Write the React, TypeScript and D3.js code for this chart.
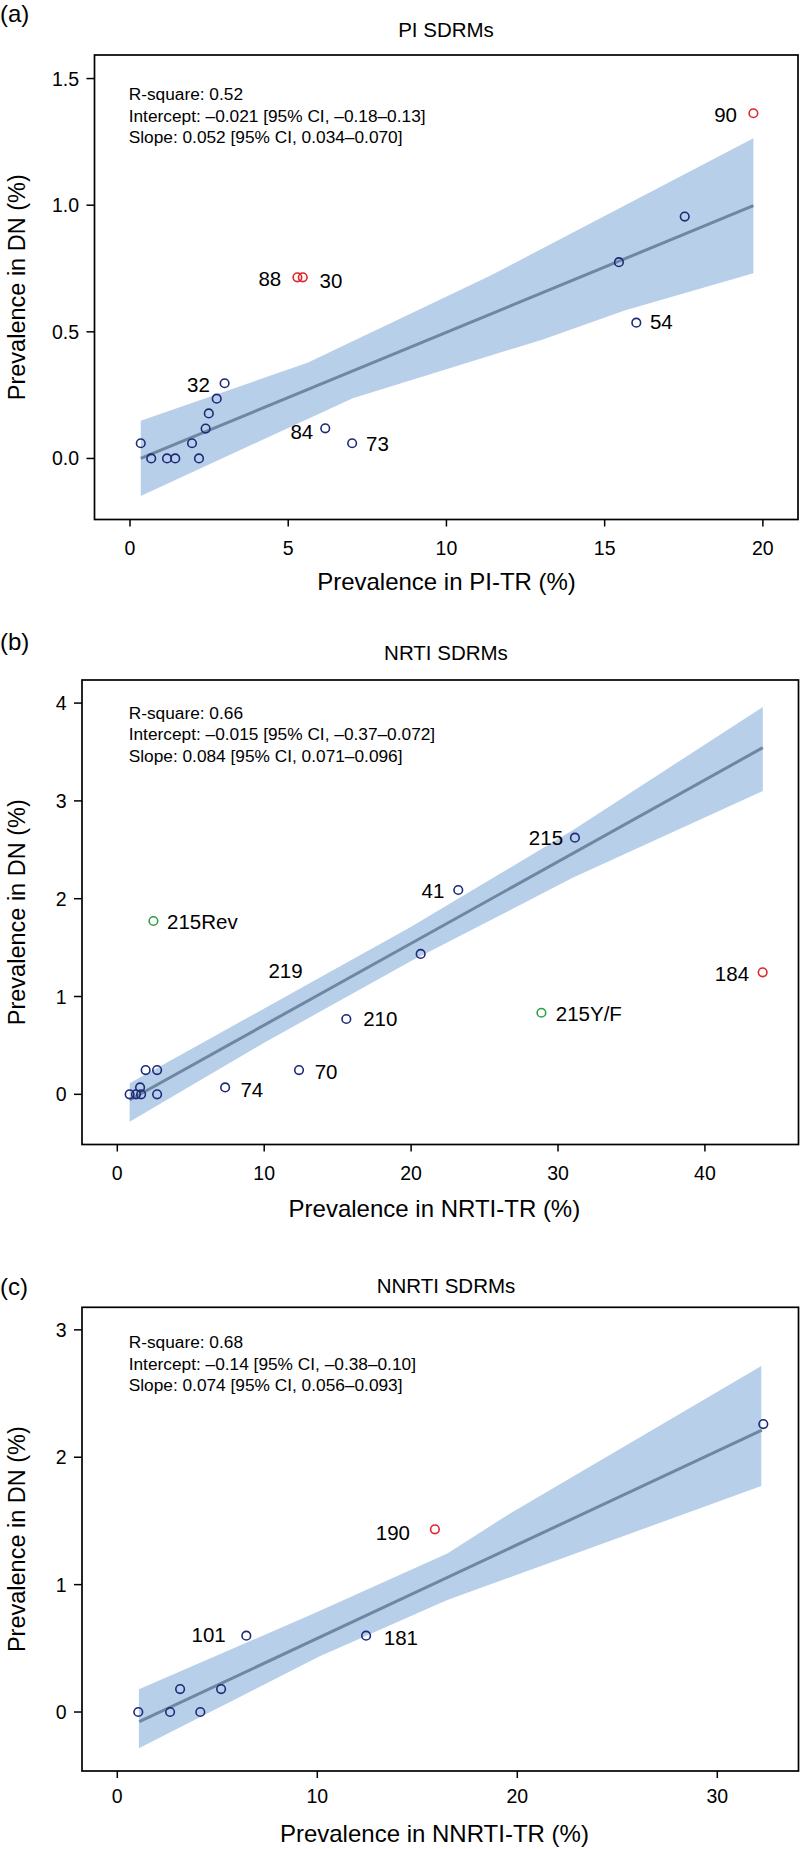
import React from 'react';
import * as d3 from 'd3';

const FONT = '"Liberation Sans", Arial, Helvetica, sans-serif';

// ---------- Panel (a): PI SDRMs ----------
const aPointX = [19.7, 17.53, 15.45, 5.29, 5.46, 16.0, 2.99, 2.74, 2.49, 2.39, 1.96, 0.34, 0.67, 1.17, 1.43, 2.18, 6.17, 7.02];
const aPointY = [1.363, 0.955, 0.775, 0.715, 0.715, 0.536, 0.297, 0.236, 0.178, 0.118, 0.06, 0.06, 0, 0, 0, 0, 0.119, 0.06];
const aPointGroup = ['r', 'b', 'b', 'r', 'r', 'b', 'b', 'b', 'b', 'b', 'b', 'b', 'b', 'b', 'b', 'b', 'b', 'b'];
const aLabelText = ['90', '88', '30', '54', '32', '84', '73'];
const aLabelX = [18.82, 4.42, 6.35, 16.79, 2.165, 5.43, 7.82];
const aLabelY = [1.356, 0.711, 0.701, 0.54, 0.29, 0.106, 0.06];
const aFitX = [0.34, 19.7];
const aFitY = [0.0, 0.998];
const aUpperX = [0.34, 5.61, 11.33, 19.7];
const aUpperY = [0.149, 0.378, 0.718, 1.264];
const aLowerX = [0.34, 7.04, 13.05, 15.63, 19.7];
const aLowerY = [-0.148, 0.238, 0.47, 0.584, 0.731];
const aXTicks = [0, 5, 10, 15, 20];
const aYTicks = [0, 0.5, 1.0, 1.5];
const aYTickLabels = ['0.0', '0.5', '1.0', '1.5'];
const aStats = ['R-square: 0.52', 'Intercept: \u20130.021 [95% CI, \u20130.18\u20130.13]', 'Slope: 0.052 [95% CI, 0.034\u20130.070]'];

// ---------- Panel (b): NRTI SDRMs ----------
const bPointX = [31.15, 23.21, 2.46, 20.65, 43.93, 28.87, 15.59, 12.37, 7.34, 1.93, 2.71, 1.55, 0.84, 1.27, 1.62, 2.71];
const bPointY = [2.624, 2.089, 1.772, 1.435, 1.247, 0.834, 0.77, 0.248, 0.071, 0.248, 0.248, 0.071, 0, 0, 0, 0];
const bPointGroup = ['b', 'b', 'g', 'b', 'r', 'g', 'b', 'b', 'b', 'b', 'b', 'b', 'b', 'b', 'b', 'b'];
const bLabelText = ['215', '41', '215Rev', '219', '184', '215Y/F', '210', '70', '74'];
const bLabelX = [29.18, 21.49, 5.79, 11.45, 41.84, 32.1, 17.9, 14.21, 9.16];
const bLabelY = [2.624, 2.079, 1.765, 1.261, 1.237, 0.828, 0.777, 0.231, 0.044];
const bFitX = [0.84, 43.94];
const bFitY = [-0.058, 3.544];
const bUpperX = [0.84, 10, 20, 31, 43.94];
const bUpperY = [0.112, 0.878, 1.713, 2.7, 3.96];
const bLowerX = [0.84, 10, 20, 31, 43.94];
const bLowerY = [-0.28, 0.528, 1.363, 2.213, 3.1];
const bXTicks = [0, 10, 20, 30, 40];
const bYTicks = [0, 1, 2, 3, 4];
const bYTickLabels = ['0', '1', '2', '3', '4'];
const bStats = ['R-square: 0.66', 'Intercept: \u20130.015 [95% CI, \u20130.37\u20130.072]', 'Slope: 0.084 [95% CI, 0.071\u20130.096]'];

// ---------- Panel (c): NNRTI SDRMs ----------
const cPointX = [32.3, 15.88, 6.45, 12.44, 3.14, 5.19, 1.05, 2.64, 4.15];
const cPointY = [2.26, 1.434, 0.599, 0.599, 0.18, 0.18, 0, 0, 0];
const cPointGroup = ['b', 'r', 'b', 'b', 'b', 'b', 'b', 'b', 'b'];
const cLabelText = ['190', '101', '181'];
const cLabelX = [13.78, 4.565, 14.18];
const cLabelY = [1.411, 0.61, 0.586];
const cFitX = [1.1, 32.23];
const cFitY = [-0.076, 2.213];
const cUpperX = [1.08, 9.85, 16.5, 19.7, 32.2];
const cUpperY = [0.178, 0.775, 1.245, 1.565, 2.716];
const cLowerX = [1.08, 10.07, 16.5, 32.2];
const cLowerY = [-0.285, 0.434, 0.879, 1.774];
const cXTicks = [0, 10, 20, 30];
const cYTicks = [0, 1, 2, 3];
const cYTickLabels = ['0', '1', '2', '3'];
const cStats = ['R-square: 0.68', 'Intercept: \u20130.14 [95% CI, \u20130.38\u20130.10]', 'Slope: 0.074 [95% CI, 0.056\u20130.093]'];

const COLORS: Record<string, string> = { b: '#1F2A78', r: '#E0262B', g: '#2FA046' };
const BAND = '#B8CFEA';
const FIT = '#6F87A3';

type Cfg = {
  letter: string; title: string; xTitle: string;
  box: { l: number; t: number; r: number; b: number };
  xDomain: [number, number]; yDomain: [number, number];
  px: number[]; py: number[]; pg: string[];
  lt: string[]; lx: number[]; ly: number[];
  fx: number[]; fy: number[];
  ux: number[]; uy: number[]; lwx: number[]; lwy: number[];
  xt: number[]; yt: number[]; ytl: string[];
  stats: string[];
  letterY: number; titleY: number; xTitleX: number; xTitleY: number; statsY: number; xTickLabelY: number;
};

const panels: Cfg[] = [
  {
    letter: '(a)', title: 'PI SDRMs', xTitle: 'Prevalence in PI-TR (%)',
    box: { l: 94.5, t: 55, r: 798, b: 519.5 },
    xDomain: [-1.122, 21.11], yDomain: [-0.241, 1.593],
    px: aPointX, py: aPointY, pg: aPointGroup,
    lt: aLabelText, lx: aLabelX, ly: aLabelY,
    fx: aFitX, fy: aFitY, ux: aUpperX, uy: aUpperY, lwx: aLowerX, lwy: aLowerY,
    xt: aXTicks, yt: aYTicks, ytl: aYTickLabels, stats: aStats,
    letterY: 21.5, titleY: 37, xTitleX: 446.5, xTitleY: 590, statsY: 100, xTickLabelY: 555,
  },
  {
    letter: '(b)', title: 'NRTI SDRMs', xTitle: 'Prevalence in NRTI-TR (%)',
    box: { l: 82, t: 680, r: 798.5, b: 1144.5 },
    xDomain: [-2.403, 46.37], yDomain: [-0.513, 4.236],
    px: bPointX, py: bPointY, pg: bPointGroup,
    lt: bLabelText, lx: bLabelX, ly: bLabelY,
    fx: bFitX, fy: bFitY, ux: bUpperX, uy: bUpperY, lwx: bLowerX, lwy: bLowerY,
    xt: bXTicks, yt: bYTicks, ytl: bYTickLabels, stats: bStats,
    letterY: 650, titleY: 660, xTitleX: 434.4, xTitleY: 1216.5, statsY: 718.7, xTickLabelY: 1180,
  },
  {
    letter: '(c)', title: 'NNRTI SDRMs', xTitle: 'Prevalence in NNRTI-TR (%)',
    box: { l: 82, t: 1307.3, r: 798.5, b: 1771 },
    xDomain: [-1.765, 34.06], yDomain: [-0.463, 3.177],
    px: cPointX, py: cPointY, pg: cPointGroup,
    lt: cLabelText, lx: cLabelX, ly: cLabelY,
    fx: cFitX, fy: cFitY, ux: cUpperX, uy: cUpperY, lwx: cLowerX, lwy: cLowerY,
    xt: cXTicks, yt: cYTicks, ytl: cYTickLabels, stats: cStats,
    letterY: 1295, titleY: 1292.7, xTitleX: 434.4, xTitleY: 1841.5, statsY: 1348, xTickLabelY: 1803,
  },
];

function Panel({ c }: { c: Cfg }) {
  const { box } = c;
  const x = d3.scaleLinear().domain(c.xDomain).range([box.l, box.r]);
  const y = d3.scaleLinear().domain(c.yDomain).range([box.b, box.t]);
  const upper = c.ux.map((v, i) => [x(v), y(c.uy[i])] as [number, number]);
  const lower = c.lwx.map((v, i) => [x(v), y(c.lwy[i])] as [number, number]).reverse();
  const bandPath = (d3.line()([...upper, ...lower]) || '') + 'Z';
  const fitPath = d3.line()(c.fx.map((v, i) => [x(v), y(c.fy[i])] as [number, number])) || '';
  const cy = (box.t + box.b) / 2;
  return (
    <g>
      <text x={0} y={c.letterY} fontSize={24} fontFamily={FONT}>{c.letter}</text>
      <text x={446} y={c.titleY} fontSize={20.5} textAnchor="middle" fontFamily={FONT}>{c.title}</text>
      <path d={bandPath} fill={BAND} stroke="none" />
      <path d={fitPath} fill="none" stroke={FIT} strokeWidth={3} />
      {c.px.map((v, i) => (
        <circle key={i} cx={x(v)} cy={y(c.py[i])} r={4.3} fill="none" stroke={COLORS[c.pg[i]]} strokeWidth={1.6} />
      ))}
      {c.lt.map((t, i) => (
        <text key={t} x={x(c.lx[i])} y={y(c.ly[i])} dy="0.36em" textAnchor="middle" fontSize={20.5} fontFamily={FONT}>{t}</text>
      ))}
      {c.stats.map((s, i) => (
        <text key={i} x={128.7} y={c.statsY + i * 21.7} fontSize={17.3} fontFamily={FONT}>{s}</text>
      ))}
      <rect x={box.l} y={box.t} width={box.r - box.l} height={box.b - box.t} fill="none" stroke="#000" strokeWidth={1.7} />
      {c.yt.map((v, i) => (
        <g key={'y' + i}>
          <line x1={box.l - 8} x2={box.l} y1={y(v)} y2={y(v)} stroke="#000" strokeWidth={1.5} />
          <text x={box.l - 15.5} y={y(v)} dy="0.36em" textAnchor="end" fontSize={19.5} fontFamily={FONT}>{c.ytl[i]}</text>
        </g>
      ))}
      {c.xt.map((v, i) => (
        <g key={'x' + i}>
          <line x1={x(v)} x2={x(v)} y1={box.b} y2={box.b + 7} stroke="#000" strokeWidth={1.5} />
          <text x={x(v)} y={c.xTickLabelY} textAnchor="middle" fontSize={19.5} fontFamily={FONT}>{String(v)}</text>
        </g>
      ))}
      <text x={c.xTitleX} y={c.xTitleY} textAnchor="middle" fontSize={24} fontFamily={FONT}>{c.xTitle}</text>
      <text transform={`translate(25,${cy}) rotate(-90)`} textAnchor="middle" fontSize={23.5} fontFamily={FONT}>Prevalence in DN (%)</text>
    </g>
  );
}

export default function App() {
  return (
    <svg width={800} height={1849} style={{ position: 'absolute', left: 0, top: 0, background: '#fff' }}>
      <rect x={0} y={0} width={800} height={1849} fill="#fff" />
      {panels.map((p) => <Panel key={p.letter} c={p} />)}
    </svg>
  );
}
